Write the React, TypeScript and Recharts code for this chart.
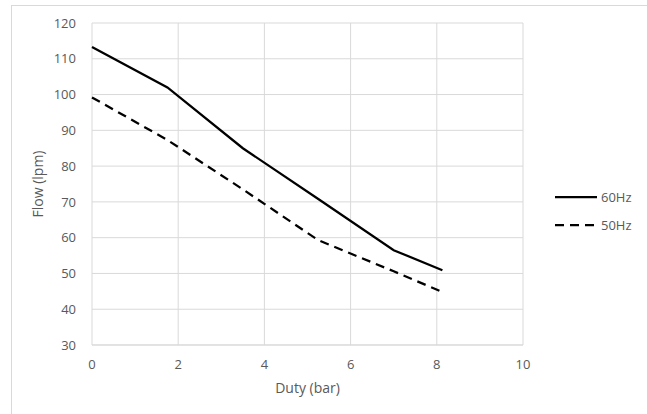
import { CartesianGrid, Line, LineChart, XAxis, YAxis } from "recharts";

const duty60 = [0, 1.75, 3.5, 5.25, 7, 8.13];
const flow60 = [113.3, 102, 85, 70.8, 56.5, 50.9];

const duty50 = [0, 1.75, 3.5, 5.25, 7, 8.13];
const flow50 = [99.2, 87.3, 73.5, 59.3, 50.6, 44.8];

const xTicks = [0, 2, 4, 6, 8, 10];
const yTicks = [30, 40, 50, 60, 70, 80, 90, 100, 110, 120];

const seriesNames = ["60Hz", "50Hz"];

const data60 = duty60.map((x, i) => ({ duty: x, flow: flow60[i] }));
const data50 = duty50.map((x, i) => ({ duty: x, flow: flow50[i] }));

const FONT = "'Open Sans', 'Liberation Sans', sans-serif";
const GREY = "#595959";
const DASH = "9 6";

function LegendBox() {
  const dashes = [undefined, DASH];
  return (
    <div style={{ position: "absolute", left: 554, top: 183, fontFamily: FONT, fontSize: 13, color: GREY }}>
      {seriesNames.map((name, i) => (
        <div key={name} style={{ display: "flex", alignItems: "center", height: 28 }}>
          <svg width={44} height={6}>
            <line x1={1} y1={3} x2={43} y2={3} stroke="#000" strokeWidth={2.25} strokeDasharray={dashes[i]} />
          </svg>
          <span style={{ marginLeft: 3 }}>{name}</span>
        </div>
      ))}
    </div>
  );
}

export default function App() {
  return (
    <div style={{ position: "absolute", left: 0, top: 0, width: 647, height: 414, overflow: "hidden", background: "#fff" }}>
      <div style={{ position: "absolute", left: 11, top: 5, width: 700, height: 500, border: "1px solid #d9d9d9" }} />
      <LineChart width={647} height={414} margin={{ top: 23, right: 124, bottom: 39, left: 52 }}>
        <CartesianGrid stroke="#d9d9d9" strokeWidth={1} />
        <XAxis
          type="number"
          dataKey="duty"
          domain={[0, 10]}
          ticks={xTicks}
          height={30}
          tickLine={false}
          axisLine={{ stroke: "#d9d9d9" }}
          tick={{ fill: GREY, fontSize: 13, fontFamily: FONT }}
          tickMargin={9}
          label={{ value: "Duty (bar)", position: "insideBottom", offset: -18, fill: GREY, fontSize: 14, fontFamily: FONT }}
        />
        <YAxis
          type="number"
          domain={[30, 120]}
          ticks={yTicks}
          width={40}
          tickLine={false}
          axisLine={false}
          tick={{ fill: GREY, fontSize: 13, fontFamily: FONT }}
          tickMargin={10}
          label={{ value: "Flow (lpm)", angle: -90, position: "insideLeft", offset: -14, fill: GREY, fontSize: 14, fontFamily: FONT, style: { textAnchor: "middle" } }}
        />
        <Line data={data60} dataKey="flow" name={seriesNames[0]} stroke="#000" strokeWidth={2.25} dot={false} isAnimationActive={false} type="linear" />
        <Line data={data50} dataKey="flow" name={seriesNames[1]} stroke="#000" strokeWidth={2.25} strokeDasharray={DASH} dot={false} isAnimationActive={false} type="linear" />
      </LineChart>
      <LegendBox />
    </div>
  );
}
